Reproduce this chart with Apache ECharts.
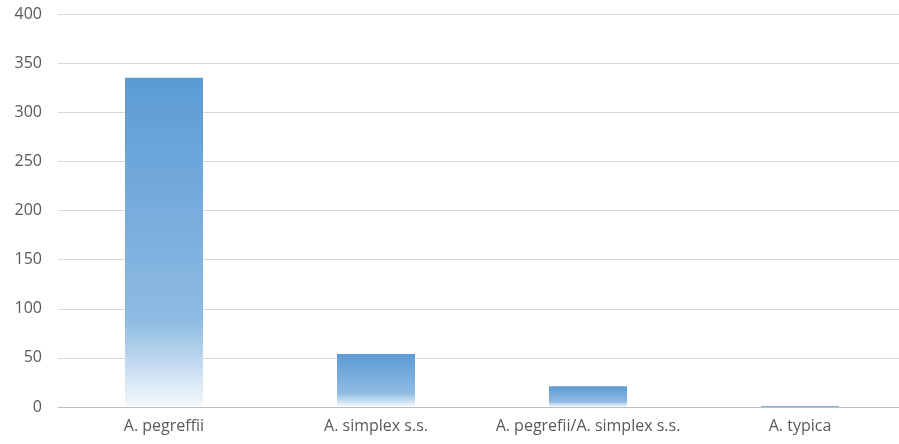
<!DOCTYPE html>
<html>
<head>
<meta charset="utf-8">
<script src="https://cdn.jsdelivr.net/npm/echarts@6/dist/echarts.min.js"></script>
<style>
  html, body { margin: 0; padding: 0; background: #ffffff; overflow: hidden; }
  #chart { width: 906px; height: 444px; }
</style>
</head>
<body>
<div id="chart"></div>
<script>
// Species categories and their counts
const categories = ['A. pegreffii', 'A. simplex s.s.', 'A. pegrefii/A. simplex s.s.', 'A. typica'];
const counts = [335, 54, 21, 1];
const yTicks = [0, 50, 100, 150, 200, 250, 300, 350, 400];

const chart = echarts.init(document.getElementById('chart'), null, { renderer: 'canvas' });

const barFill = new echarts.graphic.LinearGradient(0, 0, 0, 1, [
  { offset: 0, color: '#5b9bd5' },
  { offset: 0.74, color: '#8fbbe3' },
  { offset: 1, color: '#f7fafd' }
]);

chart.setOption({
  animation: false,
  grid: { left: 58, top: 14, right: 0, bottom: 37, containLabel: false },
  xAxis: {
    type: 'category',
    data: categories,
    axisTick: { show: false },
    axisLine: { lineStyle: { color: '#bfbfbf', width: 1 } },
    axisLabel: { interval: 0, color: '#595959', fontFamily: 'Open Sans', fontSize: 16, margin: 11 }
  },
  yAxis: {
    type: 'value',
    min: yTicks[0],
    max: yTicks[yTicks.length - 1],
    interval: 50,
    axisLine: { show: false },
    axisTick: { show: false },
    splitLine: { lineStyle: { color: '#d9d9d9', width: 1 } },
    axisLabel: { color: '#595959', fontFamily: 'Open Sans', fontSize: 16, margin: 16 }
  },
  series: [{
    type: 'bar',
    data: counts,
    barWidth: 78,
    itemStyle: { color: barFill }
  }]
});
</script>
</body>
</html>
